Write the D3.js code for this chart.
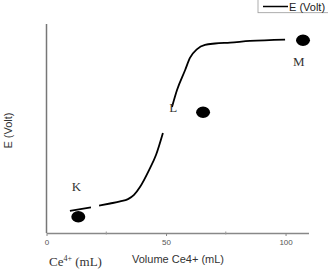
<!DOCTYPE html>
<html>
<head>
<meta charset="utf-8">
<script src="https://cdn.jsdelivr.net/npm/d3@7"></script>
<style>
body { margin: 0; background: #fff; }
svg { display: block; }
</style>
</head>
<body>
<script>
// titration curve (null = break in the line)
var volume = [9.8, 18.6, null, 22, 26.6, 30.8, 34.1, 36.6, 39.1, 42.9, 45.8, 48.7, null, 52.5, 54.6, 58, 60, 63, 66.3, 70.5, 76.8, 85.1, 99.8];
var potential = [0.695, 0.71, null, 0.718, 0.727, 0.736, 0.746, 0.764, 0.798, 0.871, 0.936, 1.031, null, 1.143, 1.216, 1.302, 1.354, 1.392, 1.41, 1.416, 1.42, 1.427, 1.433];

// points K, L, M
var pointNames = ["K", "L", "M"];
var pointVolume = [13.3, 65.5, 107.3];
var pointE = [0.67, 1.12, 1.43];
var labelVolume = [12.5, 53, 105.5];
var labelE = [0.78, 1.12, 1.32];

var xTicks = [0, 50, 100];
var xMinor = [25, 75];

var width = 328, height = 269;
var margin = {left: 46.5, right: 19.5, top: 24, bottom: 36};

var svg = d3.select("body").append("svg")
    .attr("width", width)
    .attr("height", height);

var x = d3.scaleLinear()
    .domain([0, 109.6])
    .range([margin.left, width - margin.right]);
var y = d3.scaleLinear()
    .domain([0.6, 1.5])
    .range([height - margin.bottom, margin.top]);

//axes
svg.append("line")
    .attr("x1", x(0)).attr("x2", x(0))
    .attr("y1", y(1.5)).attr("y2", y(0.6))
    .attr("stroke", "#777").attr("stroke-width", 1.5);

var xAxis = svg.append("g")
    .attr("transform", "translate(0," + y(0.6) + ")")
    .call(d3.axisBottom(x).tickValues(xTicks).tickSize(3).tickSizeOuter(0).tickPadding(3));
xAxis.select(".domain").attr("stroke", "#888").attr("stroke-width", 1.3);
xAxis.selectAll(".tick line").attr("stroke", "#888");
xAxis.selectAll("text")
    .attr("fill", "#555")
    .style("font", "8px 'Liberation Sans', Arial, sans-serif");

svg.selectAll(".minor")
    .data(xMinor)
    .enter().append("line")
    .attr("class", "minor")
    .attr("x1", function(d){ return x(d); })
    .attr("x2", function(d){ return x(d); })
    .attr("y1", y(0.6) - 1.5).attr("y2", y(0.6) + 1.5)
    .attr("stroke", "#999");

//curve
var curve = volume.map(function(v, i){ return [v, potential[i]]; });
var line = d3.line()
    .defined(function(d){ return d[0] !== null; })
    .x(function(d){ return x(d[0]); })
    .y(function(d){ return y(d[1]); })
    .curve(d3.curveMonotoneX);

svg.append("path")
    .datum(curve)
    .attr("d", line)
    .attr("fill", "none")
    .attr("stroke", "#000")
    .attr("stroke-width", 1.8);

//dots
svg.selectAll(".dot")
    .data(pointNames)
    .enter().append("ellipse")
    .attr("class", "dot")
    .attr("cx", function(d, i){ return x(pointVolume[i]); })
    .attr("cy", function(d, i){ return y(pointE[i]); })
    .attr("rx", 7).attr("ry", 5.8)
    .attr("fill", "#000");

svg.selectAll(".plabel")
    .data(pointNames)
    .enter().append("text")
    .attr("class", "plabel")
    .attr("x", function(d, i){ return x(labelVolume[i]); })
    .attr("y", function(d, i){ return y(labelE[i]); })
    .attr("text-anchor", "middle")
    .attr("fill", "#333")
    .style("font", "13px 'Liberation Serif', 'Times New Roman', serif")
    .text(function(d){ return d; });

//axis titles
svg.append("text")
    .attr("x", 178).attr("y", 263)
    .attr("text-anchor", "middle")
    .attr("fill", "#333")
    .style("font", "11px 'Liberation Sans', Arial, sans-serif")
    .text("Volume Ce4+ (mL)");

svg.append("text")
    .attr("transform", "translate(12,130.5) rotate(-90)")
    .attr("text-anchor", "middle")
    .attr("fill", "#333")
    .style("font", "11px 'Liberation Sans', Arial, sans-serif")
    .text("E (Volt)");

var ce = svg.append("text")
    .attr("x", 49).attr("y", 266)
    .attr("fill", "#333")
    .style("font", "13px 'Liberation Serif', 'Times New Roman', serif");
ce.append("tspan").text("Ce");
ce.append("tspan").attr("dy", -5).style("font-size", "8px").text("4+");
ce.append("tspan").attr("dy", 5).text(" (mL)");

//legend
var legend = svg.append("g").attr("transform", "translate(258,0)");
legend.append("rect")
    .attr("x", 0).attr("y", -1)
    .attr("width", 80).attr("height", 13.7)
    .attr("fill", "#fff")
    .attr("stroke", "#999").attr("stroke-width", 0.8);
legend.append("line")
    .attr("x1", 5).attr("x2", 30)
    .attr("y1", 6.5).attr("y2", 6.5)
    .attr("stroke", "#000").attr("stroke-width", 1.5);
legend.append("text")
    .attr("x", 31).attr("y", 10.5)
    .attr("fill", "#222")
    .style("font", "11px 'Liberation Sans', Arial, sans-serif")
    .text("E (Volt)");
</script>
</body>
</html>
